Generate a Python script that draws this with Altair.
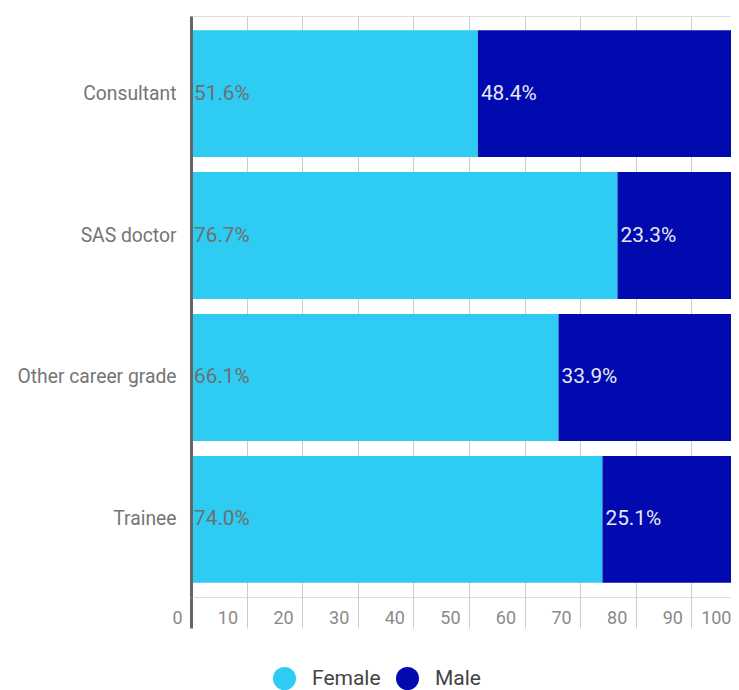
import altair as alt
import pandas as pd

roles = ["Consultant", "SAS doctor", "Other career grade", "Trainee"]
female = [51.6, 76.7, 66.1, 74.0]
male = [48.4, 23.3, 33.9, 25.1]
genders = ["Female", "Male"]
colors = ["#2ecbf2", "#000aae"]
# visible window of the x axis (the reference is cut off just before 100 at its right edge)
X_VIEW_MAX = 97.12
ticks = [0, 10, 20, 30, 40, 50, 60, 70, 80, 90, X_VIEW_MAX]

rows = []
for r, f, m in zip(roles, female, male):
    rows.append({"role": r, "gender": "Female", "order": 0, "value": f, "label": f"{f:.1f}%"})
    rows.append({"role": r, "gender": "Male", "order": 1, "value": m, "label": f"{m:.1f}%"})
df = pd.DataFrame(rows)

FONT = "Roboto"
EDGE = "datum.value > 95"

base = alt.Chart(df).transform_stack(
    stack="value", as_=["start", "end"], groupby=["role"],
    sort=[alt.SortField("order", order="ascending")]
)

yenc = alt.Y("role:N", sort=roles, title=None,
             scale=alt.Scale(paddingInner=0.106, paddingOuter=0.1),
             axis=alt.Axis(ticks=False, domain=True, domainColor="#666666", domainWidth=3,
                           labelFont=FONT, labelFontSize=19.3, labelColor="#757575",
                           labelPadding=15, zindex=1))

xenc = alt.X("start:Q", title=None,
             scale=alt.Scale(domain=[0, X_VIEW_MAX], nice=False),
             axis=alt.Axis(values=ticks, grid=True, gridColor="#cccccc", gridWidth=1,
                           gridOpacity={"condition": {"test": EDGE, "value": 0}, "value": 1},
                           domain=False, tickSize=31,
                           tickColor={"condition": {"test": "datum.value === 0", "value": "#666666"}, "value": "#cccccc"},
                           tickWidth={"condition": {"test": "datum.value === 0", "value": 3}, "value": 1},
                           tickOpacity={"condition": {"test": EDGE, "value": 0}, "value": 1},
                           labelExpr=f"{EDGE} ? '100' : datum.label",
                           labelAlign="right", labelBaseline="middle",
                           labelOffset={"condition": {"test": EDGE, "value": 0}, "value": -9},
                           labelPadding=-10, labelFont=FONT, labelFontSize=18,
                           labelColor="#8a8a8a", labelFlush=False, labelOverlap=False))

bars = base.mark_bar().encode(
    y=yenc,
    x=xenc,
    x2="end:Q",
    color=alt.Color("gender:N", scale=alt.Scale(domain=genders, range=colors),
                    legend=alt.Legend(title=None, orient="none", legendX=82, legendY=651,
                                      direction="horizontal", symbolType="circle",
                                      symbolSize=529, labelFont=FONT, labelFontSize=21,
                                      labelColor="#444444", labelOffset=16,
                                      columnPadding=15, symbolStrokeWidth=0)),
)

texts = base.mark_text(align="left", baseline="middle", dx=3, font=FONT, fontSize=20.8).encode(
    y=alt.Y("role:N", sort=roles),
    x=alt.X("start:Q"),
    text="label:N",
    color=alt.Color("gender:N", scale=alt.Scale(domain=genders, range=["#6f6f6f", "#e6e8f5"]), legend=None),
)

chart = alt.layer(bars, texts).resolve_scale(color="independent").properties(
    width=540, height=581,
    autosize=alt.AutoSizeParams(type="none"),
    padding={"left": 183, "top": 8, "right": 0, "bottom": 93},
).configure_view(stroke=None).configure(background="white")

chart.save("out.html", embed_options={"renderer": "svg", "actions": False})
